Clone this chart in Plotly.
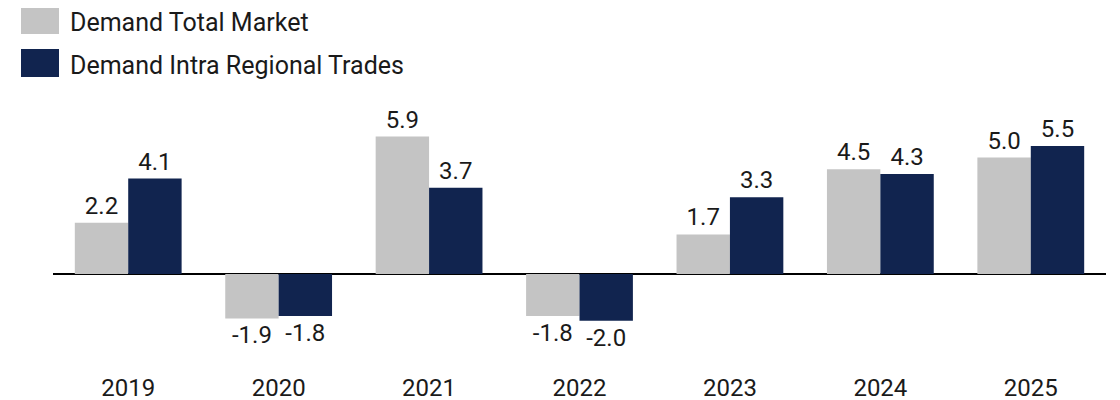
import plotly.graph_objects as go

years = ["2019", "2020", "2021", "2022", "2023", "2024", "2025"]
total_market = [2.2, -1.9, 5.9, -1.8, 1.7, 4.5, 5.0]
intra_regional = [4.1, -1.8, 3.7, -2.0, 3.3, 4.3, 5.5]
series_names = ["Demand Total Market", "Demand Intra Regional Trades"]
series_colors = ["#C4C4C4", "#11244F"]

FONT = "Roboto"
TXT = "#1a1a1a"

# page body has an 8px default margin; layout numbers below are in figure pixels
W, H = 1120, 400
L, R, T, B = 45, 22, 92, 43
PW, PH = W - L - R, H - T - B


def px_x(x):
    return (x - L) / PW


def px_y(y):
    return (H - B - y) / PH


fig = go.Figure()
for name, vals, col in zip(series_names, [total_market, intra_regional], series_colors):
    fig.add_trace(go.Bar(
        x=years, y=vals, name=name, marker=dict(color=col, line=dict(width=0)),
        text=[f"{v:.1f}" for v in vals], textposition="outside",
        textfont=dict(family=FONT, size=24, color=TXT),
        cliponaxis=False, showlegend=False,
    ))

# custom legend (large square swatches)
for i, (name, col) in enumerate(zip(series_names, series_colors)):
    y0 = -2 + i * 43
    fig.add_shape(type="rect", xref="paper", yref="paper",
                  x0=px_x(13), x1=px_x(51),
                  y0=px_y(y0 + 28), y1=px_y(y0),
                  fillcolor=col, line=dict(width=0))
    fig.add_annotation(xref="paper", yref="paper", x=px_x(60),
                       y=px_y(y0 + 16), text=name, showarrow=False,
                       xanchor="left", yanchor="middle",
                       font=dict(family=FONT, size=25, color=TXT))

fig.update_layout(
    width=W, height=H,
    margin=dict(l=L, r=R, t=T, b=B),
    paper_bgcolor="white", plot_bgcolor="white",
    barmode="group", bargap=0.29, bargroupgap=0,
    font=dict(family=FONT, color=TXT),
    xaxis=dict(showgrid=False, showline=False, ticks="outside", ticklen=1,
               tickcolor="rgba(0,0,0,0)", automargin=False,
               tickfont=dict(family=FONT, size=24, color=TXT)),
    yaxis=dict(range=[-3.9, 7.47], showgrid=False, showticklabels=False,
               automargin=False,
               zeroline=True, zerolinecolor="#000000", zerolinewidth=2),
)

fig.write_html("out.html")
